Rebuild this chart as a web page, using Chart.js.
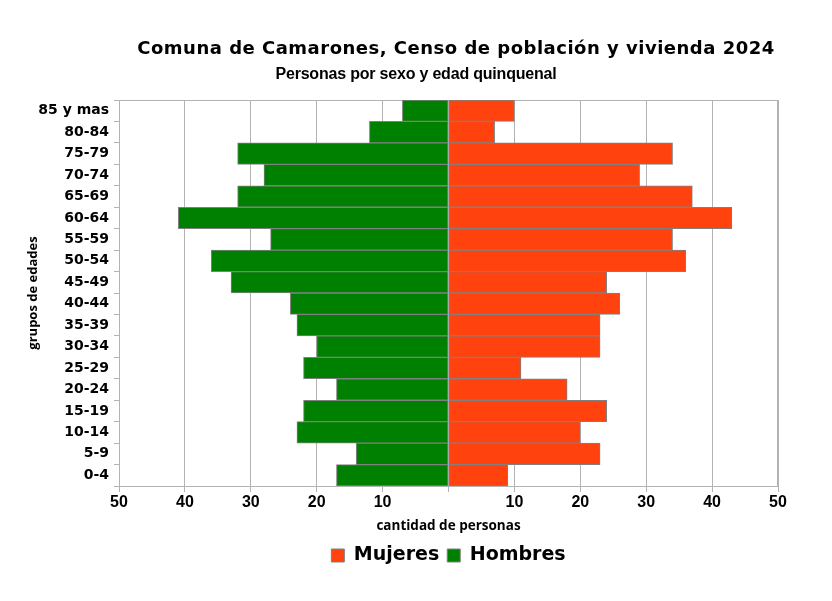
<!DOCTYPE html>
<html><head><meta charset="utf-8">
<script src="https://cdn.jsdelivr.net/npm/chart.js@4.4.1/dist/chart.umd.min.js"></script>
<style>html,body{margin:0;padding:0;background:#fff}#wrap{width:832px;height:601px}</style>
</head><body><div id="wrap"><canvas id="c" width="832" height="601"></canvas></div>
<script>
const titulo = 'Comuna de Camarones, Censo de población y vivienda 2024';
const subtitulo = 'Personas por sexo y edad quinquenal';
const grupos = ['85 y mas','80-84','75-79','70-74','65-69','60-64','55-59','50-54','45-49','40-44','35-39','30-34','25-29','20-24','15-19','10-14','5-9','0-4'];
const mujeres = [10,7,34,29,37,43,34,36,24,26,23,23,11,18,24,20,23,9];
const hombres = [7,12,32,28,32,41,27,36,33,24,23,20,22,17,22,23,14,17];
const ejeXmin = -50, ejeXmax = 50, ejeXpaso = 10;
const tituloEjeX = 'cantidad de personas';
const tituloEjeY = 'grupos de edades';

const gridColor = '#b3b3b3';

const titulosPlugin = {
  id: 'titulos',
  afterDraw(chart) {
    const ctx = chart.ctx;
    ctx.save();
    ctx.fillStyle = '#000';
    ctx.textAlign = 'center';
    ctx.textBaseline = 'alphabetic';
    ctx.font = 'bold 18px "DejaVu Sans"';
    ctx.letterSpacing = '0.5px';
    ctx.fillText(titulo, 456, 53.5);
    ctx.font = 'bold 16px "Liberation Sans"';
    ctx.letterSpacing = '-0.2px';
    ctx.fillText(subtitulo, 416, 79);
    ctx.restore();
  }
};
const marcoPlugin = {
  id: 'marco',
  beforeDatasetsDraw(chart) {
    const a = chart.chartArea, ctx = chart.ctx;
    ctx.save();
    ctx.strokeStyle = gridColor;
    ctx.lineWidth = 1;
    ctx.strokeRect(Math.round(a.left) + 0.5, Math.round(a.top) + 0.5, Math.round(a.right - a.left) - 1, Math.round(a.bottom - a.top));
    ctx.restore();
  }
};

new Chart(document.getElementById('c'), {
  type: 'bar',
  data: {
    labels: grupos,
    datasets: [
      { label: 'Mujeres', data: mujeres, backgroundColor: '#ff420e', borderColor: '#808080', borderWidth: 1, borderSkipped: false, barPercentage: 1, categoryPercentage: 1 },
      { label: 'Hombres', data: hombres.map(v => -v), backgroundColor: '#008000', borderColor: '#808080', borderWidth: 1, borderSkipped: false, barPercentage: 1, categoryPercentage: 1 }
    ]
  },
  options: {
    indexAxis: 'y',
    responsive: false,
    animation: false,
    devicePixelRatio: 1,
    layout: { padding: { top: 100, left: 20, right: 54, bottom: 26 } },
    plugins: {
      title: { display: false },
      tooltip: { enabled: false },
      legend: {
        position: 'bottom',
        fullSize: false,
        labels: {
          color: '#000',
          font: { family: '"DejaVu Sans"', weight: 'bold', size: 19 },
          boxWidth: 13, boxHeight: 13, padding: 8
        }
      }
    },
    scales: {
      x: {
        stacked: true,
        min: ejeXmin, max: ejeXmax,
        afterFit(s) { s.height = 52; },
        ticks: {
          stepSize: ejeXpaso,
          color: '#000',
          padding: 1,
          maxRotation: 0,
          font: { family: '"Liberation Sans"', weight: 'bold', size: 16 },
          callback: v => v === 0 ? '' : Math.abs(v)
        },
        grid: { color: gridColor, tickLength: 6, lineWidth: 1 },
        border: { display: true, color: gridColor },
        title: { display: true, text: tituloEjeX, color: '#000', font: { family: '"Open Sans"', weight: 'bold', size: 13.5 }, padding: { top: 0, bottom: 4 } }
      },
      y: {
        stacked: true,
        afterFit(s) { s.width = 99; },
        ticks: {
          color: '#000',
          padding: 5,
          autoSkip: false,
          font: { family: '"DejaVu Sans"', weight: 'bold', size: 14 }
        },
        grid: { drawOnChartArea: false, color: gridColor, tickLength: 5, offset: true },
        border: { display: true, color: gridColor },
        title: { display: true, text: tituloEjeY, color: '#000', font: { family: '"Open Sans"', weight: 'bold', size: 13 }, padding: { top: 5, bottom: 0 } }
      }
    }
  },
  plugins: [marcoPlugin, titulosPlugin]
});
</script>
</body></html>
